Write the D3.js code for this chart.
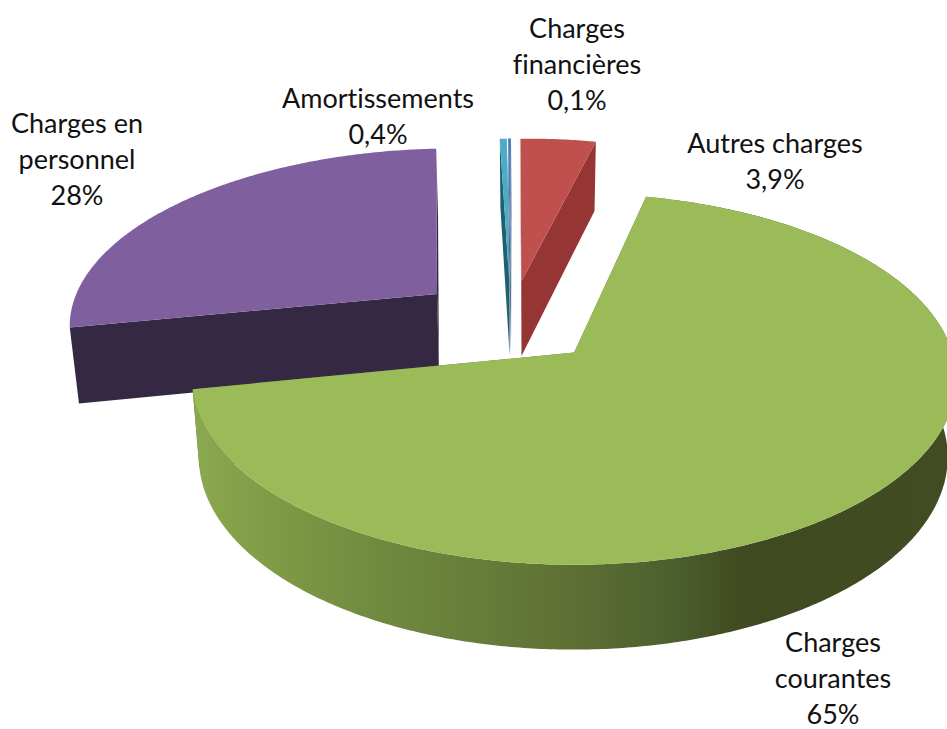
<!DOCTYPE html>
<html>
<head>
<meta charset="utf-8">
<script src="https://cdn.jsdelivr.net/npm/d3@7"></script>
<style>
	html, body { margin: 0; padding: 0; background: #fff; overflow: hidden; }
	text { font-family: Lato, "Open Sans", sans-serif; font-size: 27px; fill: #111; text-anchor: middle; font-variant-ligatures: none; }
</style>
</head>
<body>
<div id="chart"></div>
<script>
var categories = ['Autres charges', 'Charges courantes', 'Charges en personnel', 'Amortissements', 'Charges financières'];
// shares as measured off the drawn slices (the printed labels do not quite add up)
var shares = [3.8, 67.7, 27.0, 0.35, 0.15];
var labels = [['Autres charges', '3,9%'], ['Charges', 'courantes', '65%'], ['Charges en', 'personnel', '28%'], ['Amortissements', '0,4%'], ['Charges', 'financières', '0,1%']];
var topColors = ['#c0504d', '#9bbb59', '#7f5f9e', '#4bacc6', '#4f81bd'];
var wallColors = ['#963634', '#5e7034', '#352843', '#1f5f70', '#2c4d75'];

var w = 947, h = 729;
var eye = 7, hub = [-0.171, -0.172];
var explode = [0.24, 0.245, 0.264, 0.24, 0.24];
var labelX = [775, 833, 77, 378, 577], labelY = [153, 652, 133, 108, 38], lineGap = 36;

var x_scale = d3.scaleLinear().domain([-1, 1]).range([574 - 378, 574 + 378]);
var y_scale = d3.scaleLinear().domain([-1, 1]).range([352 - 181.7, 352 + 181.7]);

// ground plane to screen, things nearer the viewer come out bigger
function project(p, low) {
	var s = eye / (eye - p[1]);
	var sx = x_scale(p[0] * s), sy = y_scale(p[1] * s);
	if (low) {
		sx = 530 + (sx - 530) * 0.98;
		sy = sy + 30 + 47 * s;
	}
	return [sx, sy];
}

var pie = d3.pie().sort(null)
	.startAngle(-1.3 * Math.PI / 180)
	.endAngle((360 - 1.3) * Math.PI / 180);
var slices = pie(shares);
var line = d3.line().curve(d3.curveLinear);

function apex(d) {
	var mid = (d.startAngle + d.endAngle) / 2;
	var e = explode[d.index];
	return [hub[0] + e * Math.sin(mid), hub[1] - e * Math.cos(mid)];
}
function rim(d, a) {
	var c = apex(d);
	return [c[0] + Math.sin(a), c[1] - Math.cos(a)];
}
function rimPoints(d) {
	var n = Math.max(2, Math.ceil((d.endAngle - d.startAngle) / 0.01));
	return d3.range(n + 1).map(function(i) {
		return rim(d, d.startAngle + (d.endAngle - d.startAngle) * i / n);
	});
}
function topPath(d) {
	return line([apex(d)].concat(rimPoints(d)).map(function(p) { return project(p); })) + 'Z';
}
function edgeWall(d, a) {
	var c = apex(d), r = rim(d, a);
	return line([project(c), project(r), project(r, true), project(c, true)]) + 'Z';
}
function outerWall(d) {
	var pts = rimPoints(d);
	var up = pts.map(function(p) { return project(p); });
	var down = pts.slice().reverse().map(function(p) { return project(p, true); });
	return line(up.concat(down)) + 'Z';
}

var svg = d3.select('#chart')
	.append('svg')
		.attr('width', w)
		.attr('height', h);

var grad = svg.append('defs').append('linearGradient')
	.attr('id', 'greenWall')
	.attr('gradientUnits', 'userSpaceOnUse')
	.attr('x1', 195).attr('x2', 947).attr('y1', 0).attr('y2', 0);
[[0, '#8ba950'], [0.1, '#7f9b46'], [0.25, '#6f8a3f'], [0.5, '#5e7034'], [0.64, '#4c5e2d'], [0.73, '#404a20'], [1, '#424c22']]
	.forEach(function(s) {
		grad.append('stop').attr('offset', s[0]).attr('stop-color', s[1]);
	});

// back to front: purple, slivers, red, then the big green slice
var drawOrder = [2, 3, 4, 0, 1];

drawOrder.forEach(function(i) {
	var d = slices[i];
	var g = svg.append('g').attr('class', 'slice');
	g.append('path').attr('d', edgeWall(d, d.startAngle)).attr('fill', wallColors[i]);
	g.append('path').attr('d', edgeWall(d, d.endAngle)).attr('fill', wallColors[i]);
	if (i == 1) {
		g.append('path').attr('d', outerWall(d)).attr('fill', 'url(#greenWall)');
	}
	g.append('path').attr('d', topPath(d)).attr('fill', topColors[i]);
});

labels.forEach(function(rows, i) {
	var t = svg.append('text').attr('class', 'label');
	rows.forEach(function(r, j) {
		t.append('tspan')
			.attr('x', labelX[i])
			.attr('y', labelY[i] + j * lineGap)
			.text(r);
	});
});
</script>
</body>
</html>
